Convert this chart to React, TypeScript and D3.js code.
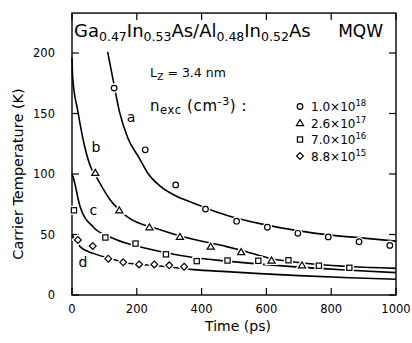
import React from "react";
import * as d3 from "d3";

type P = [number, number];

// fitted curves (time ps, temperature K)
const curveA: P[] = [[110,201],[126,179],[146,152],[172,130],[208,113],[233,101],[272,90],[320,82],[374,76],[412,72],[477,66],[580,59],[700,53],[800,49.5],[900,47],[1000,44.5]];
const curveB: P[] = [[0,196],[2,180],[18,152],[38,124],[59,105],[72,99],[117,79],[169,65],[272,54],[374,46],[477,40],[522,37],[617,30],[709,26.5],[858,23.5],[1000,22]];
const curveC: P[] = [[0,100],[4,97],[25,73],[66,56],[117,48],[169,42.7],[272,36],[374,31],[477,28],[580,25.5],[700,23],[858,20.5],[1000,18.5]];
const curveD: P[] = [[0,50],[2,49],[25,40],[66,34.4],[117,30.3],[169,26.5],[272,24],[374,21],[477,19.3],[580,17.7],[700,16],[858,14.2],[1000,13]];

// measured points
const circles: P[] = [[130,171],[226,120],[320,91],[412,71],[508,61],[603,56],[697,51],[791,48],[886,44],[981,41]];
const triangles: P[] = [[72,101],[146,70],[239,56],[333,48],[428,40],[522,35.5],[616,28.5],[710,24.6]];
const squares: P[] = [[6,70],[103,47.5],[196,42.5],[290,33.6],[385,28],[480,28.5],[575,28.3],[668,28.7],[762,24.2],[856,22.5]];
const diamonds: P[] = [[18,45.5],[64,40.5],[112,30],[158,27],[207,25.3],[254,25.3],[300,24.5],[346,23.4]];

const curveLabels = ["a", "b", "c", "d"];
const curveLabelPos: P[] = [[182, 147], [74, 122], [66, 70], [34, 27]];

const xTicks = [0, 200, 400, 600, 800, 1000];
const yTicks = [0, 50, 100, 150, 200];
const legendMant = ["1.0\u00d710", "2.6\u00d710", "7.0\u00d710", "8.8\u00d710"];
const legendExp = ["18", "17", "16", "15"];
const legendShapes = ["circle", "triangle", "square", "diamond"];

const FONT = "DejaVu Sans, sans-serif";

const x = d3.scaleLinear().domain([0, 1000]).range([72, 396]);
const y = d3.scaleLinear().domain([0, 200]).range([295, 53]);
const yTop = y(233);

const line = d3
  .line<P>()
  .x((d) => x(d[0]))
  .y((d) => y(d[1]))
  .curve(d3.curveMonotoneX);

function Marker({ shape, cx, cy }: { shape: string; cx: number; cy: number }) {
  const common = { fill: "white", stroke: "black", strokeWidth: 1.2 };
  const halo = { fill: "white", stroke: "white", strokeWidth: 4 };
  let el: (p: any) => React.ReactElement;
  if (shape === "circle") el = (p) => <circle cx={cx} cy={cy} r={2.8} {...p} />;
  else if (shape === "triangle") {
    const s = 3.4;
    const pts = `${cx},${cy - s} ${cx - s * 1.05},${cy + s * 0.75} ${cx + s * 1.05},${cy + s * 0.75}`;
    el = (p) => <polygon points={pts} {...p} />;
  } else if (shape === "square") {
    const s = 2.6;
    el = (p) => <rect x={cx - s} y={cy - s} width={2 * s} height={2 * s} {...p} />;
  } else {
    const s = 3.4;
    const pts = `${cx},${cy - s} ${cx + s},${cy} ${cx},${cy + s} ${cx - s},${cy}`;
    el = (p) => <polygon points={pts} {...p} />;
  }
  return (
    <g>
      {el(halo)}
      {el(common)}
    </g>
  );
}

export default function App() {
  const curves = [curveA, curveB, curveC, curveD];
  const series: [string, P[]][] = [
    ["circle", circles],
    ["triangle", triangles],
    ["square", squares],
    ["diamond", diamonds],
  ];
  const tickLen = 7;
  return (
    <svg
      width={412}
      height={343}
      style={{ position: "absolute", left: 0, top: 0, background: "white" }}
      fontFamily={FONT}
    >
      <rect x={0} y={0} width={412} height={343} fill="white" />
      {/* frame */}
      <rect x={x(0)} y={yTop} width={x(1000) - x(0)} height={y(0) - yTop} fill="none" stroke="black" strokeWidth={1.4} />
      {/* ticks */}
      {xTicks.map((t) => (
        <g key={"xt" + t}>
          <line x1={x(t)} x2={x(t)} y1={y(0)} y2={y(0) - tickLen} stroke="black" strokeWidth={1.2} />
          <line x1={x(t)} x2={x(t)} y1={yTop} y2={yTop + tickLen} stroke="black" strokeWidth={1.2} />
          <text x={x(t)} y={313} textAnchor="middle" fontSize={11.5}>{t}</text>
        </g>
      ))}
      {yTicks.map((t) => (
        <g key={"yt" + t}>
          <line x1={x(0)} x2={x(0) + tickLen} y1={y(t)} y2={y(t)} stroke="black" strokeWidth={1.2} />
          <line x1={x(1000)} x2={x(1000) - tickLen} y1={y(t)} y2={y(t)} stroke="black" strokeWidth={1.2} />
          <text x={55} y={y(t) + 4} textAnchor="end" fontSize={11.5}>{t}</text>
        </g>
      ))}
      {/* axis titles */}
      <text x={238} y={331} textAnchor="middle" fontSize={14}>Time (ps)</text>
      <text transform={`translate(23,${174}) rotate(-90)`} textAnchor="middle" fontSize={14.5}>
        Carrier Temperature (K)
      </text>
      {/* curves */}
      {curves.map((c, i) => (
        <path key={"c" + i} d={line(c) || ""} fill="none" stroke="black" strokeWidth={1.6} />
      ))}
      {/* markers */}
      {series.map(([shape, pts]) =>
        pts.map((p, j) => <Marker key={shape + j} shape={shape} cx={x(p[0])} cy={y(p[1])} />)
      )}
      {/* curve labels */}
      {curveLabels.map((l, i) => (
        <text key={"l" + l} x={x(curveLabelPos[i][0])} y={y(curveLabelPos[i][1]) + 5} textAnchor="middle" fontSize={14}>
          {l}
        </text>
      ))}
      {/* title */}
      <text x={74} y={37} fontSize={18}>
        Ga<tspan fontSize={12.5} dy={4}>0.47</tspan>
        <tspan dy={-4}>In</tspan>
        <tspan fontSize={12.5} dy={4}>0.53</tspan>
        <tspan dy={-4}>As/Al</tspan>
        <tspan fontSize={12.5} dy={4}>0.48</tspan>
        <tspan dy={-4}>In</tspan>
        <tspan fontSize={12.5} dy={4}>0.52</tspan>
        <tspan dy={-4}>As</tspan>
      </text>
      <text x={383} y={37} fontSize={17} textAnchor="end">MQW</text>
      {/* Lz */}
      <text x={150} y={77} fontSize={12.5}>
        L<tspan fontSize={9.5} dy={3}>Z</tspan>
        <tspan dy={-3}> = 3.4 nm</tspan>
      </text>
      {/* legend */}
      <text x={150} y={111} fontSize={15} letterSpacing={0.6}>
        n<tspan fontSize={11.5} dy={3}>exc</tspan>
        <tspan dy={-3}> (cm</tspan>
        <tspan fontSize={11} dy={-6}>-3</tspan>
        <tspan dy={6}>) :</tspan>
      </text>
      {legendShapes.map((s, i) => (
        <g key={"lg" + s}>
          <Marker shape={s} cx={300} cy={106.5 + i * 16.5} />
          <text x={311} y={111 + i * 16.5} fontSize={12}>
            {legendMant[i]}
            <tspan fontSize={8.5} dy={-5}>{legendExp[i]}</tspan>
          </text>
        </g>
      ))}
    </svg>
  );
}
